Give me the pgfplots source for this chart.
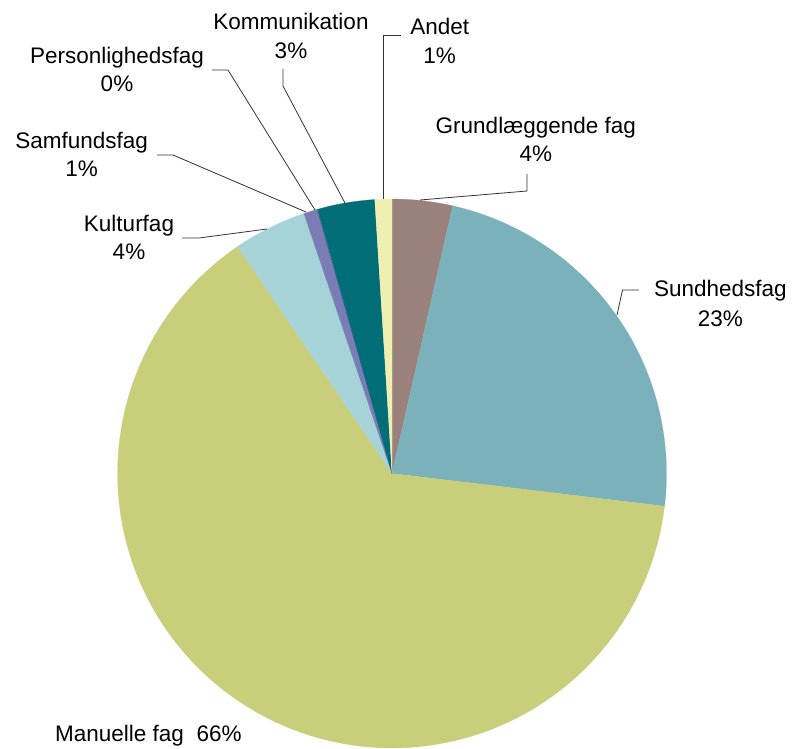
\documentclass[border=0pt]{standalone}
\usepackage{fontspec}
\setmainfont{Liberation Sans}
\usepackage{pgfplots}
\pgfplotsset{compat=1.18}
\definecolor{cGrund}{HTML}{9A817B}
\definecolor{cSund}{HTML}{7BB1BA}
\definecolor{cManu}{HTML}{C9CE7A}
\definecolor{cKult}{HTML}{A6D3D8}
\definecolor{cSamf}{HTML}{7A7DB5}
\definecolor{cPers}{HTML}{4A5A9A}
\definecolor{cKomm}{HTML}{006D77}
\definecolor{cAndet}{HTML}{EFEFB1}
\definecolor{cLead}{HTML}{333333}
% slice shares (percent of the full circle), clockwise from 12 o'clock
\def\vGrund{3.55}
\def\vSund{23.35}
\def\vManu{63.6}
\def\vKult{4.3}
\def\vSamf{0.8}
\def\vPers{0.05}
\def\vKomm{3.35}
\def\vAndet{1.0}
\pgfmathsetmacro\aA{0}
\pgfmathsetmacro\aB{\aA+3.6*\vGrund}
\pgfmathsetmacro\aC{\aB+3.6*\vSund}
\pgfmathsetmacro\aD{\aC+3.6*\vManu}
\pgfmathsetmacro\aE{\aD+3.6*\vKult}
\pgfmathsetmacro\aF{\aE+3.6*\vSamf}
\pgfmathsetmacro\aG{\aF+3.6*\vPers}
\pgfmathsetmacro\aH{\aG+3.6*\vKomm}
\pgfmathsetmacro\aI{360}
\def\cx{392}
\def\cy{473.5}
\def\R{274.5}
\newcommand\slice[3]{%
  \addplot[fill=#3, draw=#3, line width=0.2pt, domain=#1:#2, samples=90, variable=\t]
    ({\cx+\R*sin(\t)},{\cy-\R*cos(\t)}) -- (axis cs:\cx,\cy) -- cycle;}
\begin{document}
\begin{tikzpicture}[font=\fontsize{22.5bp}{29bp}\selectfont]
\begin{axis}[x=1bp, y=1bp, y dir=reverse, xmin=0, xmax=792, ymin=0, ymax=749,
  hide axis, clip=false, scale only axis]
\path (axis cs:0,0) rectangle (axis cs:792,749);
\slice{\aA}{\aB}{cGrund}
\slice{\aB}{\aC}{cSund}
\slice{\aC}{\aD}{cManu}
\slice{\aD}{\aE}{cKult}
\slice{\aE}{\aF}{cSamf}
\slice{\aF}{\aG}{cPers}
\slice{\aG}{\aH}{cKomm}
\slice{\aH}{\aI}{cAndet}
% leader lines
\addplot[cLead, line width=0.8pt, mark=none] coordinates {(383,199) (383,35) (401,35)};
\addplot[cLead, line width=0.8pt, mark=none] coordinates {(420,200) (527,191) (527,174)};
\addplot[cLead, line width=0.8pt, mark=none] coordinates {(617,315) (622.5,290) (639,290)};
\addplot[cLead, line width=0.8pt, mark=none] coordinates {(345,203) (283,86) (283,69)};
\addplot[cLead, line width=0.8pt, mark=none] coordinates {(315,210) (228,70) (212,70)};
\addplot[cLead, line width=0.8pt, mark=none] coordinates {(306,212) (173,155) (157,155)};
\addplot[cLead, line width=0.8pt, mark=none] coordinates {(267,229) (199,238) (182,238)};
% labels
\node[anchor=base, inner sep=0pt] at (axis cs:291,30) {Kommunikation};
\node[anchor=base, inner sep=0pt] at (axis cs:291,58.3) {3\%};
\node[anchor=base, inner sep=0pt] at (axis cs:117,63.3) {Personlighedsfag};
\node[anchor=base, inner sep=0pt] at (axis cs:117,91.7) {0\%};
\node[anchor=base, inner sep=0pt] at (axis cs:81.7,148.3) {Samfundsfag};
\node[anchor=base, inner sep=0pt] at (axis cs:81.7,176.7) {1\%};
\node[anchor=base, inner sep=0pt] at (axis cs:129,231.7) {Kulturfag};
\node[anchor=base, inner sep=0pt] at (axis cs:129,259.3) {4\%};
\node[anchor=base, inner sep=0pt] at (axis cs:439.7,35) {Andet};
\node[anchor=base, inner sep=0pt] at (axis cs:439.7,63.3) {1\%};
\node[anchor=base, inner sep=0pt] at (axis cs:535.8,133.3) {Grundlæggende fag};
\node[anchor=base, inner sep=0pt] at (axis cs:535.8,161.7) {4\%};
\node[anchor=base, inner sep=0pt] at (axis cs:720.3,296.7) {Sundhedsfag};
\node[anchor=base, inner sep=0pt] at (axis cs:720.3,326) {23\%};
\node[anchor=base west, inner sep=0pt] at (axis cs:55,741.7) {Manuelle fag\ \ 66\%};
\end{axis}
\end{tikzpicture}
\end{document}
